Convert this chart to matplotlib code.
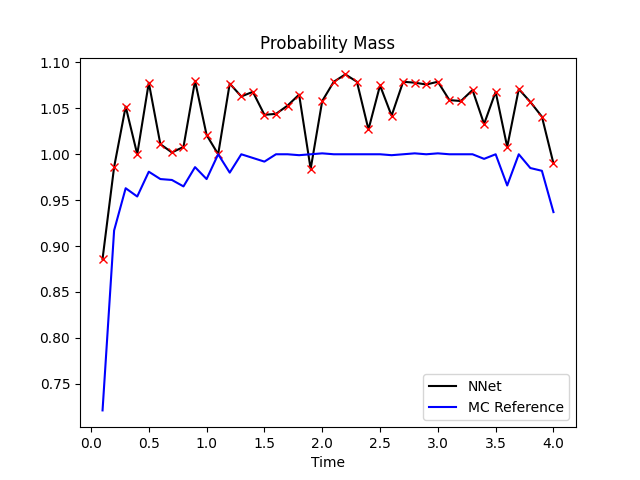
import matplotlib
matplotlib.use("Agg")
import matplotlib.pyplot as plt
import numpy as np

times = [round(0.1 * i, 1) for i in range(1, 41)]
nnet = [0.886, 0.986, 1.052, 1.000, 1.078, 1.011, 1.002, 1.008, 1.080, 1.021,
        1.000, 1.077, 1.063, 1.068, 1.043, 1.044, 1.053, 1.065, 0.984, 1.058,
        1.079, 1.087, 1.079, 1.027, 1.075, 1.042, 1.079, 1.078, 1.076, 1.079,
        1.059, 1.058, 1.070, 1.033, 1.068, 1.008, 1.071, 1.057, 1.041, 0.990]
mc_ref = [0.721, 0.917, 0.963, 0.954, 0.981, 0.973, 0.972, 0.965, 0.986, 0.973,
          1.000, 0.980, 1.000, 0.996, 0.992, 1.000, 1.000, 0.999, 1.000, 1.001,
          1.000, 1.000, 1.000, 1.000, 1.000, 0.999, 1.000, 1.001, 1.000, 1.001,
          1.000, 1.000, 1.000, 0.995, 1.000, 0.966, 1.000, 0.985, 0.982, 0.937]

fig, ax = plt.subplots(figsize=(6.4, 4.8), dpi=100)
ax.plot(times, nnet, color='black', label='NNet')
ax.plot(times, nnet, 'rx')
ax.plot(times, mc_ref, color='blue', label='MC Reference')
ax.set_title('Probability Mass')
ax.set_xlabel('Time')
ax.legend(loc='lower right')
fig.savefig('out.png', dpi=100)
